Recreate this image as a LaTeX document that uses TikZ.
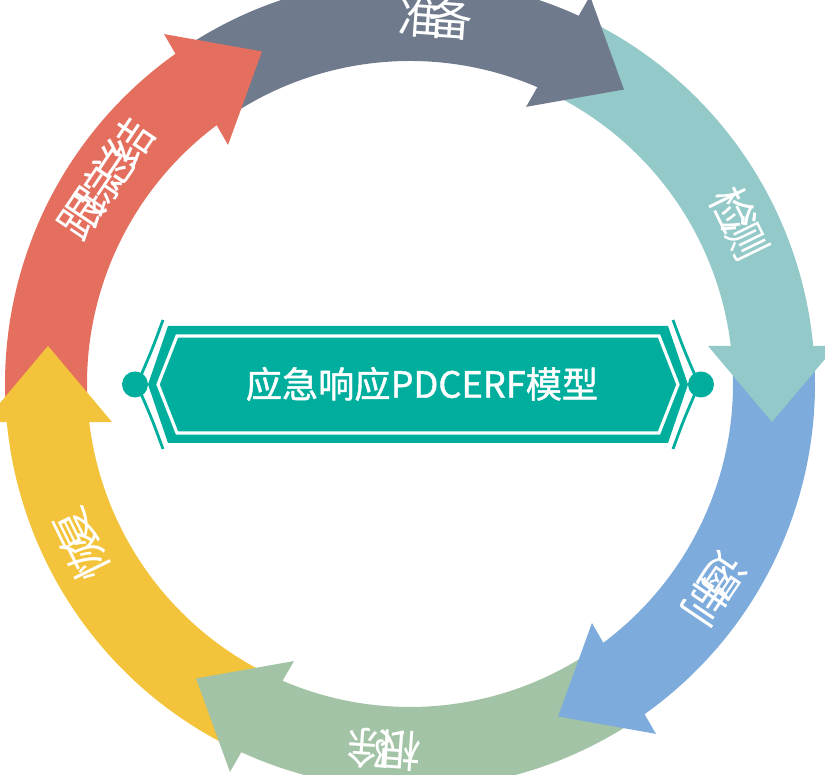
\documentclass[tikz,border=0pt]{standalone}
\usepackage{fontspec}
\newfontfamily\cjk{Noto Sans CJK SC}
\newfontfamily\cjkb[FakeBold=1.2]{Noto Sans CJK SC}
\usetikzlibrary{calc}
\definecolor{cgray}{HTML}{6F7B8D}
\definecolor{cteal}{HTML}{93C9C9}
\definecolor{cblue}{HTML}{7DABDC}
\definecolor{cgreen}{HTML}{A2C3A5}
\definecolor{cyellow}{HTML}{F3C43B}
\definecolor{cred}{HTML}{E56F5F}
\definecolor{cbanner}{HTML}{00AE9D}
\newcommand\rc[1]{\makebox[0.68em][c]{#1}}
\begin{document}
\begin{tikzpicture}[
  lbl/.style={text=white,font=\cjk\fontsize{12.5}{14}\selectfont,inner sep=0pt},
  ttl/.style={text=white,font=\cjkb\fontsize{10.3}{12}\selectfont,inner sep=0pt},
  deco/.style={draw=cbanner,line width=0.8pt}]
\useasboundingbox (0,0) rectangle (8.25,7.75);
\clip (0,0) rectangle (8.25,7.75);
\begin{scope}[shift={(4.10,3.91)}]
  % arrow bodies
  \foreach \c [count=\k from 0] in {cgray,cteal,cblue,cgreen,cyellow,cred}{
    \pgfmathsetmacro\Bs{66-60*\k+56}
    \pgfmathsetmacro\Be{66-60*\k-2}
    \fill[\c] (\Bs:4.05) arc[start angle=\Bs,end angle=\Be,radius=4.05]
      -- (\Be:3.23) arc[start angle=\Be,end angle=\Bs,radius=3.23] -- cycle;
  }
  % arrow heads
  \foreach \c [count=\k from 0] in {cgray,cteal,cblue,cgreen,cyellow,cred}{
    \pgfmathsetmacro\B{66-60*\k}
    \pgfmathsetmacro\T{66-60*\k-12}
    \coordinate (bc\k) at (\B:3.64);
    \coordinate (tp\k) at (\T:3.64);
    \fill[\c] ($(bc\k)!0.64cm!90:(tp\k)$) -- (tp\k) -- ($(bc\k)!0.64cm!-90:(tp\k)$) -- cycle;
  }
  % labels
  \node[lbl,rotate=-4]   (l0) at (86:3.67)   {\rc{准}\rc{备}};
  \node[lbl,rotate=-64]  (l1) at (26:3.67)   {\rc{检}\rc{测}};
  \node[lbl,rotate=-124] (l2) at (-34:3.67)  {\rc{遏}\rc{制}};
  \node[lbl,rotate=-184] (l3) at (-94:3.67)  {\rc{根}\rc{除}};
  \node[lbl,rotate=116]  (l4) at (-154:3.67) {\rc{恢}\rc{复}};
  \node[lbl,rotate=56]   (l5) at (146:3.67)  {\rc{跟}\rc{踪}\rc{总}\rc{结}};
\end{scope}
% central banner
\fill[cbanner] (1.68,4.49) -- (6.68,4.49) -- (6.88,3.905) -- (6.68,3.32)
  -- (1.68,3.32) -- (1.48,3.905) -- cycle;
\draw[white,line width=0.9pt] (1.77,4.39) -- (6.59,4.39) -- (6.78,3.905)
  -- (6.59,3.42) -- (1.77,3.42) -- (1.58,3.905) -- cycle;
\draw[deco] (1.63,4.55) .. controls (1.52,4.25) .. (1.37,3.905)
  .. controls (1.52,3.56) .. (1.63,3.26);
\draw[deco] (6.73,4.55) .. controls (6.84,4.25) .. (6.99,3.905)
  .. controls (6.84,3.56) .. (6.73,3.26);
\fill[cbanner] (1.35,3.905) circle (0.13);
\fill[cbanner] (7.01,3.905) circle (0.13);
\node[ttl] (title) at (4.22,3.91) {应急响应PDCERF模型};
\end{tikzpicture}
\end{document}
